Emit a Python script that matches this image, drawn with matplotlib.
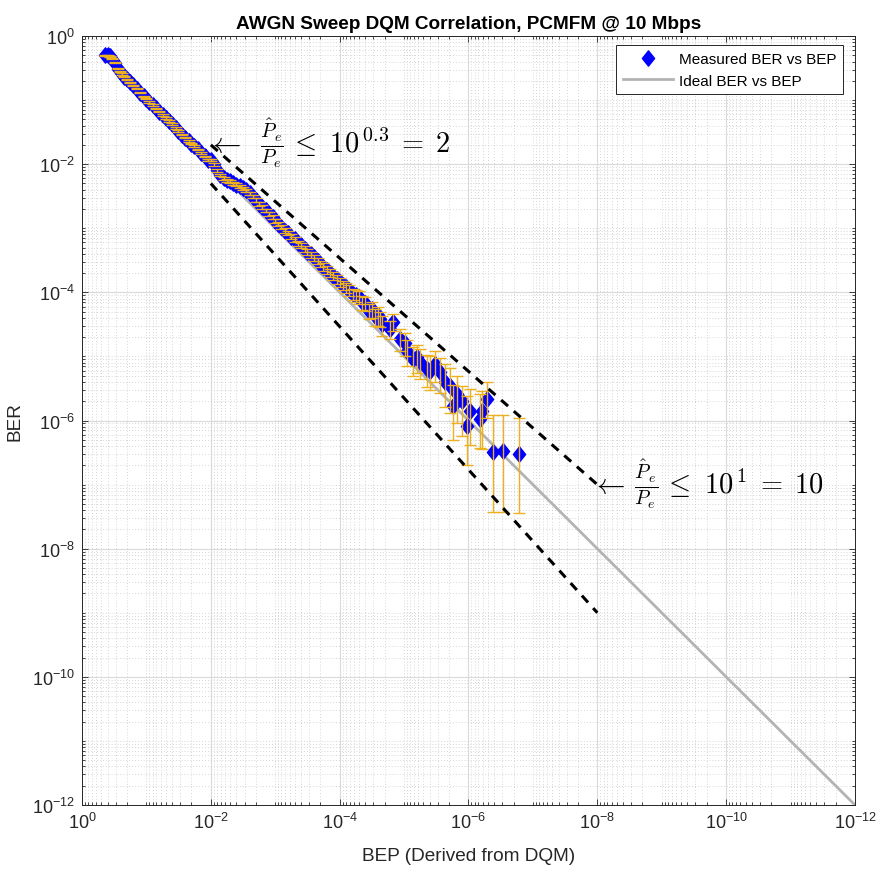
import numpy as np
import matplotlib
matplotlib.use('Agg')
import matplotlib.pyplot as plt
from matplotlib.ticker import FixedLocator, LogLocator, NullFormatter, FuncFormatter
from matplotlib.path import Path

plt.rcParams['font.family'] = ['Liberation Sans', 'DejaVu Sans']
plt.rcParams['mathtext.fontset'] = 'custom'
plt.rcParams['mathtext.rm'] = 'Liberation Sans'
plt.rcParams['mathtext.it'] = 'Liberation Sans:italic'
plt.rcParams['mathtext.bf'] = 'Liberation Sans:bold'

# ---------------- data ----------------
bep_dense = [0.44, 0.40, 0.37, 0.34, 0.31, 0.28, 0.26, 0.24, 0.22, 0.20, 0.18, 0.16, 0.14, 0.125, 0.11, 0.10,
             9.0e-2, 8.0e-2, 7.1e-2, 6.3e-2, 5.6e-2, 5.0e-2, 4.5e-2, 4.0e-2, 3.5e-2, 3.2e-2, 2.8e-2, 2.5e-2,
             2.2e-2, 2.0e-2, 1.8e-2, 1.6e-2, 1.4e-2, 1.25e-2, 1.1e-2,
             1.0e-2, 9.0e-3, 8.0e-3, 7.1e-3, 6.3e-3, 5.6e-3, 5.0e-3, 4.5e-3, 4.0e-3, 3.5e-3, 3.2e-3, 2.8e-3,
             2.5e-3, 2.2e-3, 2.0e-3, 1.8e-3, 1.6e-3, 1.4e-3, 1.25e-3, 1.1e-3,
             1.0e-3, 9.0e-4, 8.0e-4, 7.1e-4, 6.3e-4, 5.6e-4, 5.0e-4, 4.5e-4, 4.0e-4, 3.5e-4, 3.2e-4, 2.8e-4,
             2.5e-4, 2.2e-4, 2.0e-4, 1.8e-4, 1.6e-4, 1.4e-4, 1.25e-4, 1.1e-4,
             1.0e-4, 9.0e-5, 8.0e-5, 7.1e-5, 6.3e-5, 5.6e-5, 5.0e-5, 4.5e-5, 4.0e-5, 3.5e-5, 3.2e-5, 2.8e-5,
             2.5e-5, 2.2e-5]
ber_dense = [0.50, 0.50, 0.48, 0.44, 0.38, 0.31, 0.28, 0.255, 0.23, 0.21, 0.19, 0.17, 0.15, 0.13, 0.115, 0.105,
             9.4e-2, 8.4e-2, 7.4e-2, 6.6e-2, 5.9e-2, 5.2e-2, 4.7e-2, 4.2e-2, 3.7e-2, 3.3e-2, 2.9e-2, 2.6e-2,
             2.3e-2, 2.1e-2, 1.9e-2, 1.7e-2, 1.5e-2, 1.32e-2, 1.17e-2,
             1.15e-2, 9.9e-3, 8.0e-3, 6.8e-3, 6.0e-3, 5.6e-3, 5.4e-3, 5.0e-3, 4.8e-3, 4.5e-3, 4.2e-3, 3.9e-3,
             3.5e-3, 3.1e-3, 2.75e-3, 2.4e-3, 2.15e-3, 1.9e-3, 1.66e-3, 1.48e-3,
             1.32e-3, 1.18e-3, 1.05e-3, 9.2e-4, 8.4e-4, 7.4e-4, 6.7e-4, 5.9e-4, 5.4e-4, 4.8e-4, 4.3e-4, 3.9e-4,
             3.5e-4, 3.1e-4, 2.8e-4, 2.5e-4, 2.25e-4, 2.0e-4, 1.8e-4, 1.6e-4,
             1.45e-4, 1.3e-4, 1.2e-4, 1.1e-4, 9.5e-5, 9.0e-5, 8.5e-5, 7.0e-5, 6.8e-5, 5.2e-5, 5.5e-5, 4.2e-5,
             4.4e-5, 3.2e-5]
rel_err_dense = [0.02] * 16 + [0.03] * 19 + \
    [0.04, 0.04, 0.04, 0.04, 0.04, 0.05, 0.05, 0.05, 0.05, 0.05, 0.05, 0.05, 0.06, 0.06, 0.06, 0.06, 0.06,
     0.06, 0.07, 0.07] + \
    [0.07, 0.07, 0.08, 0.08, 0.08, 0.09, 0.09, 0.09, 0.10, 0.10, 0.10, 0.11, 0.11, 0.12, 0.12, 0.13, 0.13,
     0.14, 0.14, 0.15] + \
    [0.16, 0.17, 0.18, 0.19, 0.20, 0.21, 0.22, 0.24, 0.25, 0.27, 0.28, 0.30, 0.32, 0.35]

bep_sparse = [2.35e-5, 1.65e-5, 1.5e-5, 1.15e-5, 9.6e-6, 8.9e-6, 7.2e-6, 6.3e-6, 5.6e-6, 4.4e-6, 4.0e-6,
              3.3e-6, 2.8e-6, 2.3e-6, 1.93e-6, 1.74e-6, 1.5e-6, 1.27e-6, 1.07e-6, 9.5e-7, 6.6e-7, 6.2e-7,
              5.2e-7, 4.1e-7, 2.9e-7, 1.62e-7]
ber_sparse = [3.9e-5, 2.7e-5, 3.5e-5, 1.9e-5, 1.6e-5, 1.2e-5, 9.1e-6, 9.8e-6, 8.2e-6, 6.3e-6, 5.9e-6,
              7.6e-6, 5.7e-6, 4.0e-6, 3.5e-6, 1.7e-6, 2.6e-6, 2.0e-6, 8.3e-7, 1.42e-6, 1.05e-6, 1.4e-6,
              2.2e-6, 3.2e-7, 3.3e-7, 3.0e-7]
ber_sparse_lo = [2.9e-5, 1.9e-5, 2.5e-5, 1.2e-5, 1.0e-5, 7.0e-6, 5.0e-6, 5.5e-6, 4.5e-6, 3.3e-6, 3.0e-6,
                 4.0e-6, 2.7e-6, 1.6e-6, 1.3e-6, 5.0e-7, 9.0e-7, 5.8e-7, 2.0e-7, 4.1e-7, 3.7e-7, 3.6e-7,
                 1.1e-6, 3.8e-8, 3.8e-8, 3.6e-8]
ber_sparse_hi = [5.0e-5, 3.6e-5, 4.6e-5, 2.7e-5, 2.3e-5, 1.8e-5, 1.4e-5, 1.5e-5, 1.3e-5, 1.05e-5, 1.0e-5,
                 1.2e-5, 9.5e-6, 7.5e-6, 6.5e-6, 3.6e-6, 5.0e-6, 3.5e-6, 2.4e-6, 3.1e-6, 2.6e-6, 2.9e-6,
                 4.0e-6, 1.2e-6, 1.2e-6, 1.1e-6]

ideal_bep = [0.5, 1e-12]
ideal_ber = [0.5, 1e-12]

bound_bep = [1e-2, 1e-8]
bound_upper_ber = [2e-2, 1e-7]
bound_lower_ber = [5e-3, 1e-9]

major_ticks = [1e0, 1e-2, 1e-4, 1e-6, 1e-8, 1e-10, 1e-12]

# ---------------- figure ----------------
fig = plt.figure(figsize=(8.79, 8.70), dpi=100)
ax = fig.add_axes([82 / 879, 1 - 806 / 870, (855 - 82) / 879, (806 - 37) / 870])
ax.set_xscale('log')
ax.set_yscale('log')

bep_d = np.array(bep_dense)
ber_d = np.array(ber_dense)
rel = np.array(rel_err_dense)
bep_s = np.array(bep_sparse)
ber_s = np.array(ber_sparse)

bep_all = np.concatenate([bep_d, bep_s])
ber_all = np.concatenate([ber_d, ber_s])
err_lo = np.concatenate([ber_d * rel, ber_s - np.array(ber_sparse_lo)])
err_hi = np.concatenate([ber_d * rel, np.array(ber_sparse_hi) - ber_s])

diamond = Path([(0, 1), (0.8, 0), (0, -1), (-0.8, 0), (0, 1)],
               [Path.MOVETO, Path.LINETO, Path.LINETO, Path.LINETO, Path.CLOSEPOLY])

ideal, = ax.plot(ideal_bep, ideal_ber, color='#b3b3b3', lw=2.0, zorder=2.5, label='Ideal BER vs BEP')
meas, = ax.plot(bep_all, ber_all, linestyle='none', marker=diamond, ms=11,
                mfc='#0000ff', mec='#0000ff', zorder=3, label='Measured BER vs BEP')
ax.errorbar(bep_all, ber_all, yerr=[err_lo, err_hi], fmt='none', ecolor='#EDB120',
            elinewidth=1.0, capsize=4.5, capthick=1.0, zorder=4)

ax.plot(bound_bep, bound_upper_ber, color='black', lw=2.2, ls=(0, (3, 2.5)), zorder=5)
ax.plot(bound_bep, bound_lower_ber, color='black', lw=2.2, ls=(0, (3, 2.5)), zorder=5)

ax.text(1.12e-2, 2.2e-2, r'$\leftarrow\;\;\frac{\hat{P}_e}{P_e}\,\leq\,\, 10^{\,0.3}\;=\;2$', fontsize=20.5,
        math_fontfamily='cm', ha='left', va='center', zorder=6)
ax.text(1.2e-8, 1.05e-7, r'$\leftarrow\,\frac{\hat{P}_e}{P_e}\,\leq\,\, 10^{\,1}\;=\;10$', fontsize=20.5,
        math_fontfamily='cm', ha='left', va='center', zorder=6)

ax.set_xlim(1, 1e-12)
ax.set_ylim(1e-12, 1)

fmt = FuncFormatter(lambda v, p: r'$10^{%d}$' % int(round(np.log10(v))))
for axis in (ax.xaxis, ax.yaxis):
    axis.set_major_locator(FixedLocator(major_ticks))
    axis.set_minor_locator(LogLocator(base=10, subs=np.arange(1, 10), numticks=100))
    axis.set_minor_formatter(NullFormatter())
    axis.set_major_formatter(fmt)

ax.grid(which='major', color='#dadada', lw=0.8, ls='-', zorder=0)
ax.grid(which='minor', color='#c8c8c8', lw=0.6, ls=(0, (1, 2.5)), zorder=0)
ax.set_axisbelow(True)

ax.tick_params(which='both', direction='in', top=True, right=True, colors='#262626',
               labelcolor='#262626', labelsize=13, width=0.6)
ax.tick_params(which='major', length=4.5, pad=5)
ax.tick_params(which='minor', length=2.5)
for s in ax.spines.values():
    s.set_color('#262626')
    s.set_linewidth(0.7)

ax.set_title('AWGN Sweep DQM Correlation, PCMFM @ 10 Mbps', fontsize=13.7, fontweight='bold', pad=6)
ax.set_xlabel('BEP (Derived from DQM)', fontsize=13.7, color='#262626', labelpad=11)
ax.set_ylabel('BER', fontsize=13.7, color='#262626', labelpad=6)

leg = ax.legend(handles=[meas, ideal], labels=['Measured BER vs BEP', 'Ideal BER vs BEP'],
                loc='upper right', bbox_to_anchor=((843 - 82) / 773, 1 - (46 - 37) / 769),
                borderaxespad=0, fontsize=11, fancybox=False, framealpha=1, edgecolor='#262626',
                handlelength=3.3, handletextpad=0.35, labelspacing=0.5, borderpad=0.45, numpoints=1)
leg.get_frame().set_linewidth(0.7)

fig.savefig('out.png', dpi=100)
